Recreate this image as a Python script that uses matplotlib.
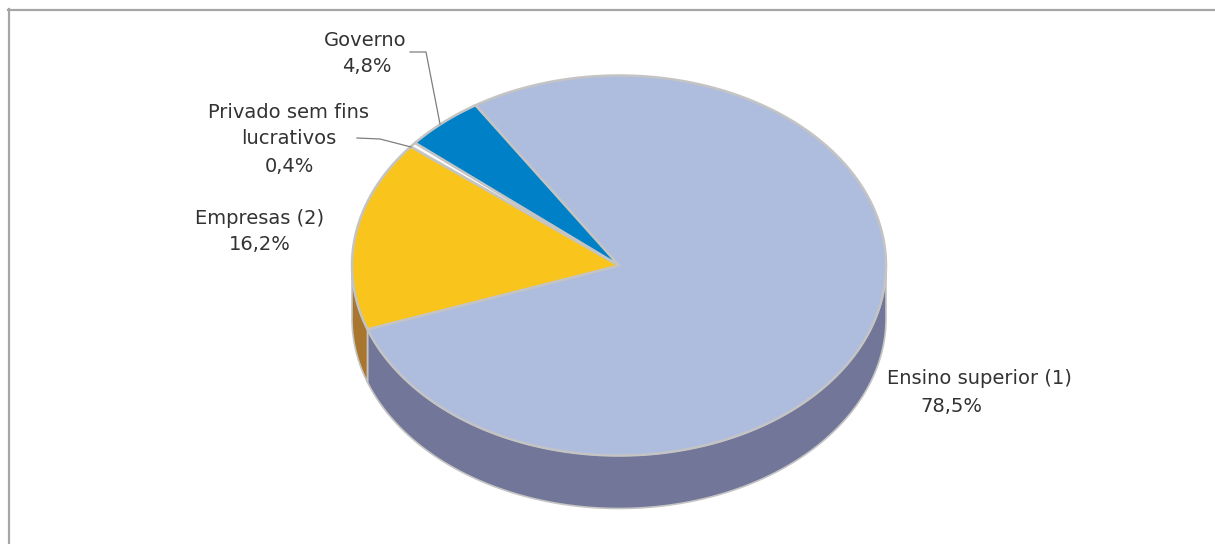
import numpy as np
import matplotlib
matplotlib.use("Agg")
import matplotlib.pyplot as plt
from matplotlib.patches import Polygon
from matplotlib.lines import Line2D

# ---- data ----
categories = ["Ensino superior (1)", "Empresas (2)", "Privado sem fins\nlucrativos", "Governo"]
values = [78.5, 16.2, 0.4, 4.8]
value_labels = ["78,5%", "16,2%", "0,4%", "4,8%"]
top_colors = ["#AEBCDE", "#F9C41B", "#FFFFFF", "#0080C7"]
side_colors = ["#727799", "#A9762F", "#D9D9D9", "#005A8C"]

# ---- geometry (pixel space) ----
cx, cy = 619, 265.5
rx, ry = 267, 190
depth = 53
start_deg = 122.5  # end of Governo / start of Ensino superior, going clockwise

fig = plt.figure(figsize=(12.15, 5.44), dpi=100)
ax = fig.add_axes([0, 0, 1, 1])
ax.set_xlim(0, 1215)
ax.set_ylim(544, 0)
ax.axis("off")

edge = "#C4C4C4"

def pt(t, dy=0.0):
    return cx + rx * np.cos(np.radians(t)), cy - ry * np.sin(np.radians(t)) + dy

# slice angle ranges (clockwise)
total = sum(values)
ranges = []
a = start_deg
for v in values:
    span = 360.0 * v / total
    ranges.append((a - span, a))  # (low, high) in ccw terms
    a -= span

# side walls: visible where angle in [180, 360] (mod 360)
for (lo, hi), sc in zip(ranges, side_colors):
    for k in (-360, 0, 360):
        l, h = max(lo + k, 180), min(hi + k, 360)
        if h > l:
            ts = np.linspace(l, h, 200)
            top = [pt(t) for t in ts]
            bot = [pt(t, depth) for t in ts[::-1]]
            ax.add_patch(Polygon(top + bot, closed=True, facecolor=sc,
                                 edgecolor=edge, lw=1.2, joinstyle="round"))

# top faces
for (lo, hi), tc in zip(ranges, top_colors):
    ts = np.linspace(lo, hi, max(int((hi - lo) * 3), 4))
    verts = [(cx, cy)] + [pt(t) for t in ts]
    ax.add_patch(Polygon(verts, closed=True, facecolor=tc, edgecolor=edge,
                         lw=1.8, joinstyle="round"))

# labels
fs = 14
tcol = "#333333"
ax.text(365, 40, categories[3], ha="center", va="center", fontsize=fs, color=tcol)
ax.text(367, 67, value_labels[3], ha="center", va="center", fontsize=fs, color=tcol)
ax.text(289, 113, "Privado sem fins", ha="center", va="center", fontsize=fs, color=tcol)
ax.text(289, 139, "lucrativos", ha="center", va="center", fontsize=fs, color=tcol)
ax.text(289, 166, value_labels[2], ha="center", va="center", fontsize=fs, color=tcol)
ax.text(260, 218, categories[1], ha="center", va="center", fontsize=fs, color=tcol)
ax.text(260, 244, value_labels[1], ha="center", va="center", fontsize=fs, color=tcol)
ax.text(979, 379, categories[0], ha="center", va="center", fontsize=fs, color=tcol)
ax.text(951, 407, value_labels[0], ha="center", va="center", fontsize=fs, color=tcol)

# leader lines
ax.add_line(Line2D([410, 426, 440], [52, 52, 124], color="#7F7F7F", lw=0.9))
ax.add_line(Line2D([357, 380, 411], [138, 139, 147], color="#7F7F7F", lw=0.9))

# frame (top and left)
ax.add_line(Line2D([8, 1215], [9.5, 9.5], color="#A6A6A6", lw=1.6))
ax.add_line(Line2D([8.5, 8.5], [9, 544], color="#A6A6A6", lw=1.6))

fig.savefig("out.png", dpi=100, facecolor="white")
